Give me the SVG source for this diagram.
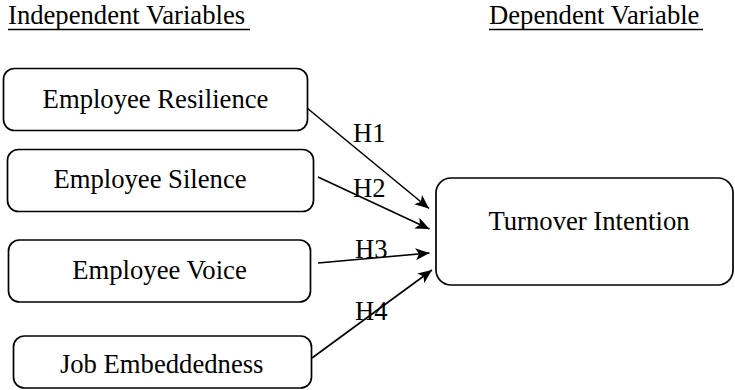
<svg xmlns="http://www.w3.org/2000/svg" width="735" height="390" viewBox="0 0 735 390">
<defs>
<style>
.box{fill:#fff;stroke:#000;stroke-width:1.7}
text{font-family:'Liberation Serif','Times New Roman',Times,serif;font-size:26.67px;fill:#000}
.c{text-anchor:middle}
.ul{stroke:#000;stroke-width:1.6}
.edge{stroke:#000;stroke-width:1.6;fill:none;marker-end:url(#arr)}
</style>
<marker id="arr" viewBox="0 0 14 12" refX="14" refY="6" markerWidth="14" markerHeight="12" markerUnits="userSpaceOnUse" orient="auto">
<path d="M0,0 L14,6 L0,12 L3.5,6 Z" fill="#000"/>
</marker>
</defs>
<rect width="735" height="390" fill="#fff"/>
<g id="headings">
<text x="8" y="24">Independent Variables</text>
<line class="ul" x1="8" y1="29.5" x2="250" y2="29.5"/>
<text x="489" y="24">Dependent Variable</text>
<line class="ul" x1="489" y1="29.5" x2="703" y2="29.5"/>
</g>
<g id="connectors">
<line class="edge" x1="307" y1="108" x2="429" y2="208.5"/>
<line class="edge" x1="318" y1="177" x2="429.5" y2="229"/>
<line class="edge" x1="318" y1="263" x2="429.5" y2="253"/>
<line class="edge" x1="312" y1="358" x2="432" y2="270"/>
<text x="353" y="142">H1</text>
<text x="353" y="197">H2</text>
<text x="355" y="258">H3</text>
<text x="355" y="320">H4</text>
</g>
<g id="n-resilience">
<rect class="box" x="3.5" y="68.5" width="304" height="62" rx="11"/>
<text class="c" x="155.5" y="108">Employee Resilience</text>
</g>
<g id="n-silence">
<rect class="box" x="7.5" y="149.5" width="306" height="62" rx="11"/>
<text class="c" x="150" y="188">Employee Silence</text>
</g>
<g id="n-voice">
<rect class="box" x="8.5" y="240" width="302" height="62" rx="11"/>
<text class="c" x="159.5" y="279">Employee Voice</text>
</g>
<g id="n-embeddedness">
<rect class="box" x="13.5" y="336" width="298" height="52" rx="11"/>
<text class="c" x="161.7" y="373">Job Embeddedness</text>
</g>
<g id="n-turnover">
<rect class="box" x="436" y="178" width="297" height="107" rx="15"/>
<text class="c" x="589" y="230">Turnover Intention</text>
</g>
</svg>
